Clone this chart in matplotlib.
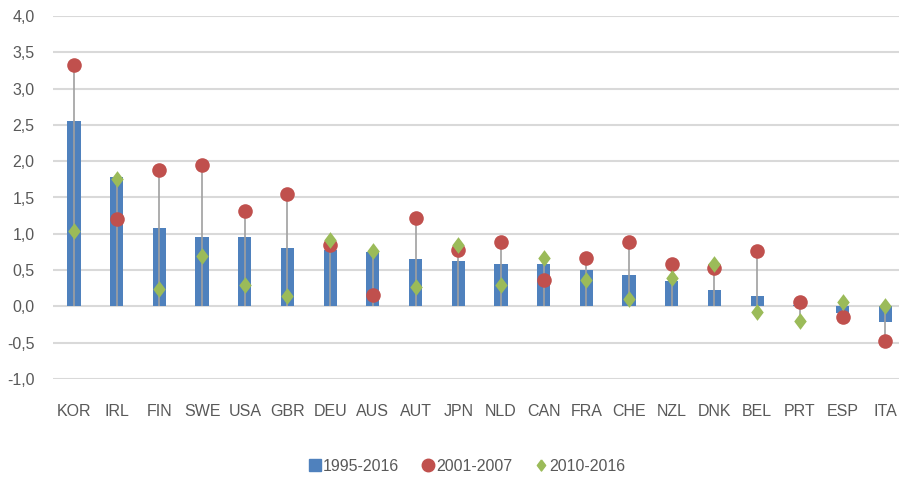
import numpy as np
import matplotlib
matplotlib.use("Agg")
import matplotlib.pyplot as plt
from matplotlib.lines import Line2D

countries = ["KOR", "IRL", "FIN", "SWE", "USA", "GBR", "DEU", "AUS", "AUT", "JPN",
             "NLD", "CAN", "FRA", "CHE", "NZL", "DNK", "BEL", "PRT", "ESP", "ITA"]
p_1995_2016 = [2.55, 1.78, 1.08, 0.96, 0.96, 0.80, 0.78, 0.75, 0.65, 0.62,
               0.58, 0.58, 0.50, 0.43, 0.35, 0.22, 0.15, 0.02, -0.09, -0.21]
p_2001_2007 = [3.33, 1.21, 1.88, 1.95, 1.31, 1.55, 0.85, 0.16, 1.22, 0.78,
               0.89, 0.36, 0.66, 0.89, 0.58, 0.53, 0.76, 0.06, -0.14, -0.47]
p_2010_2016 = [1.04, 1.75, 0.24, 0.70, 0.30, 0.15, 0.92, 0.76, 0.27, 0.85,
               0.30, 0.67, 0.36, 0.10, 0.39, 0.58, -0.08, -0.20, 0.06, 0.00]
yticks = [-1.0, -0.5, 0.0, 0.5, 1.0, 1.5, 2.0, 2.5, 3.0, 3.5, 4.0]

c_bar = "#4F81BD"
c_red = "#C0504D"
c_green = "#9BBB59"
c_text = "#595959"

# Excel style diamond, a bit taller than wide
diamond = [(0, 1), (0.75, 0), (0, -1), (-0.75, 0), (0, 1)]

plt.rcParams['font.family'] = ['Liberation Sans', 'DejaVu Sans']

fig = plt.figure(figsize=(8.99, 4.86), dpi=100)
W, H = 899, 486
ax = fig.add_axes([52.6 / W, 1 - 379 / H, (899 - 52.6) / W, (379 - 16) / H])

x = np.arange(len(countries))
ax.bar(x, p_1995_2016, width=0.31, color=c_bar, zorder=2)

# high-low lines (span of all series incl. zero)
r = np.array(p_2001_2007)
g = np.array(p_2010_2016)
lo = np.minimum(np.minimum(r, g), 0)
hi = np.maximum(np.maximum(r, g), 0)
ax.vlines(x, lo, hi, color="#A0A0A0", lw=1.2, zorder=3)

ax.plot(x, r, 'o', color=c_red, ms=10.5, zorder=4, markeredgewidth=0)
ax.plot(x, g, marker=diamond, ls='none', color=c_green, ms=12, zorder=5, markeredgewidth=0)

ax.set_xlim(-0.5, -0.5 + (899 - 52.6) / 42.7)
ax.set_ylim(-1.0, 4.0)
ax.set_yticks(yticks)
ax.set_yticklabels([f"{v:.1f}".replace(".", ",") for v in yticks])
ax.set_xticks(x)
ax.set_xticklabels(countries)
ax.tick_params(axis='both', length=0, labelsize=11.5, colors=c_text)
ax.tick_params(axis='y', pad=13)
ax.tick_params(axis='x', pad=18)
ax.grid(axis='y', color="#D9D9D9", lw=1.5, zorder=0)
ax.set_axisbelow(True)
for s in ax.spines.values():
    s.set_visible(False)

handles = [
    Line2D([], [], marker='s', color=c_bar, ls='none', ms=8),
    Line2D([], [], marker='o', color=c_red, ls='none', ms=9),
    Line2D([], [], marker=diamond, color=c_green, ls='none', ms=8),
]
fig.legend(handles, ["1995-2016", "2001-2007", "2010-2016"], loc='center',
           bbox_to_anchor=(466 / W, 1 - 466 / H), ncol=3, frameon=False,
           fontsize=11.5, handletextpad=0.0, columnspacing=1.3, labelcolor=c_text,
           handlelength=1.0)

fig.savefig("out.png", dpi=100)
